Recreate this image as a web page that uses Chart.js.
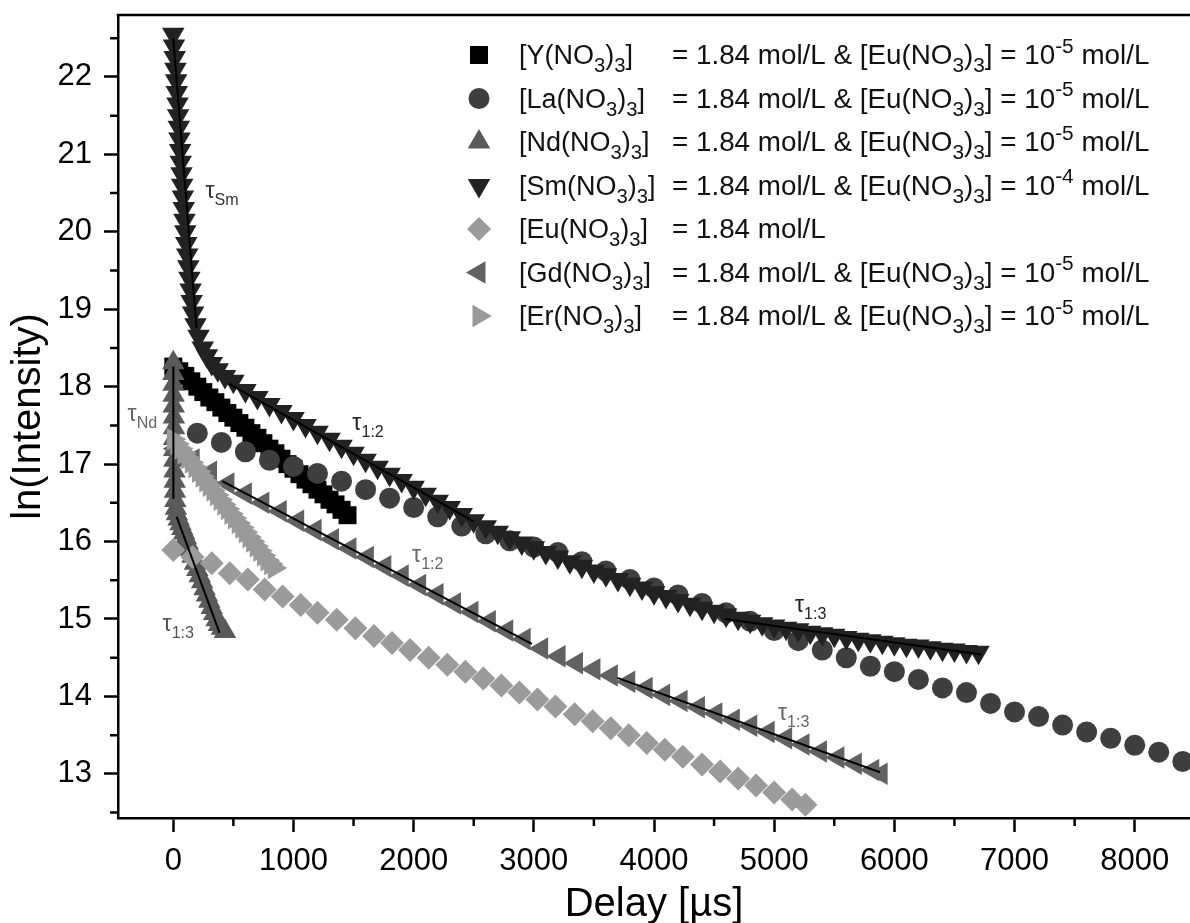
<!DOCTYPE html>
<html>
<head>
<meta charset="utf-8">
<script src="https://cdn.jsdelivr.net/npm/chart.js@4.4.1/dist/chart.umd.min.js"></script>
<style>
  html, body { margin: 0; padding: 0; background: #fff; overflow: hidden; }
  #wrap { width: 1190px; height: 923px; }
  canvas { display: block; }
</style>
</head>
<body>
<div id="wrap"><canvas id="chart" width="1190" height="923"></canvas></div>
<script>
const FONT = "'Liberation Sans', Arial, Helvetica, sans-serif";

// ticks
const xTicks = [0, 1000, 2000, 3000, 4000, 5000, 6000, 7000, 8000];
const xMinorTicks = [500, 1500, 2500, 3500, 4500, 5500, 6500, 7500];
const yTicks = [13, 14, 15, 16, 17, 18, 19, 20, 21, 22];
const yMinorTicks = [12.5, 13.5, 14.5, 15.5, 16.5, 17.5, 18.5, 19.5, 20.5, 21.5, 22.5];

// [Y(NO3)3] - squares
const yDelay = [0, 50, 100, 150, 200, 250, 300, 350, 400, 450, 500, 550, 600, 650, 700, 750, 800, 850, 900, 950, 1000, 1050, 1100, 1150, 1200, 1250, 1300, 1350, 1400, 1450];
const yLn = [18.26, 18.20, 18.14, 18.07, 18.00, 17.93, 17.86, 17.80, 17.73, 17.66, 17.60, 17.53, 17.47, 17.40, 17.34, 17.27, 17.20, 17.14, 17.07, 17.00, 16.94, 16.87, 16.80, 16.74, 16.67, 16.61, 16.54, 16.48, 16.41, 16.34];

// [La(NO3)3] - circles
const laDelay = [200, 400, 600, 800, 1000, 1200, 1400, 1600, 1800, 2000, 2200, 2400, 2600, 2800, 3000, 3200, 3400, 3600, 3800, 4000, 4200, 4400, 4600, 4800, 5000, 5200, 5400, 5600, 5800, 6000, 6200, 6400, 6600, 6800, 7000, 7200, 7400, 7600, 7800, 8000, 8200, 8400];
const laLn = [17.40, 17.28, 17.16, 17.05, 16.97, 16.88, 16.78, 16.67, 16.56, 16.44, 16.32, 16.20, 16.10, 16.01, 15.93, 15.86, 15.74, 15.62, 15.51, 15.40, 15.31, 15.20, 15.08, 14.97, 14.85, 14.72, 14.60, 14.50, 14.39, 14.32, 14.22, 14.11, 14.05, 13.91, 13.80, 13.74, 13.63, 13.54, 13.46, 13.37, 13.28, 13.16];

// [Nd(NO3)3] - up triangles
const ndDelay = [0, 1, 2, 3, 4, 5, 6, 7, 8, 9, 10, 12, 14, 17, 22, 30, 45, 60, 75, 90, 105, 120, 140, 160, 180, 200, 220, 240, 260, 280, 300, 320, 340, 360, 380, 405, 430];
const ndLn = [18.31, 18.17, 18.03, 17.89, 17.75, 17.61, 17.47, 17.33, 17.19, 17.05, 16.91, 16.78, 16.65, 16.53, 16.43, 16.36, 16.29, 16.23, 16.17, 16.11, 16.05, 15.98, 15.90, 15.81, 15.72, 15.64, 15.56, 15.48, 15.39, 15.31, 15.23, 15.15, 15.07, 14.99, 14.93, 14.88, 14.84];

// [Sm(NO3)3] - down triangles
const smDelay = [0, 6, 12, 18, 24, 29, 35, 40, 46, 51, 57, 62, 68, 74, 80, 87, 93, 100, 108, 116, 125, 134, 144, 153, 165, 185, 210, 245, 280, 320, 370, 430, 500,
  600, 700, 800, 900, 1000, 1100, 1200, 1300, 1400, 1500, 1600, 1700, 1800, 1900, 2000, 2100, 2200, 2300, 2400, 2500, 2600, 2700, 2800, 2900, 3000,
  3100, 3200, 3300, 3400, 3500, 3600, 3700, 3800, 3900, 4000, 4100, 4200, 4300, 4400, 4500, 4600, 4700, 4800, 4900, 5000,
  5100, 5200, 5300, 5400, 5500, 5600, 5700, 5800, 5900, 6000, 6100, 6200, 6300, 6400, 6500, 6600, 6700];
const smLn = [22.55, 22.40, 22.25, 22.10, 21.95, 21.80, 21.65, 21.50, 21.35, 21.20, 21.05, 20.90, 20.75, 20.60, 20.45, 20.30, 20.15, 20.00, 19.85, 19.70, 19.55, 19.40, 19.25, 19.10, 18.95, 18.80, 18.65, 18.50, 18.40, 18.30, 18.22, 18.13, 18.07,
  17.95, 17.86, 17.77, 17.68, 17.59, 17.50, 17.41, 17.32, 17.23, 17.14, 17.05, 16.96, 16.87, 16.79, 16.70, 16.61, 16.52, 16.44, 16.35, 16.27, 16.19, 16.12, 16.05, 15.98, 15.92,
  15.86, 15.80, 15.74, 15.68, 15.62, 15.57, 15.51, 15.45, 15.40, 15.34, 15.29, 15.24, 15.19, 15.14, 15.10, 15.05, 15.01, 14.97, 14.94, 14.91,
  14.88, 14.86, 14.83, 14.81, 14.79, 14.76, 14.74, 14.72, 14.70, 14.68, 14.66, 14.65, 14.63, 14.61, 14.60, 14.58, 14.57];

// [Eu(NO3)3] - diamonds
const euDelay = [0, 160, 320, 470, 620, 760, 910, 1060, 1200, 1360, 1515, 1670, 1820, 1970, 2125, 2280, 2430, 2580, 2730, 2880, 3030, 3180, 3340, 3490, 3640, 3790, 3940, 4090, 4240, 4400, 4550, 4700, 4850, 5000, 5150, 5260];
const euLn = [15.89, 15.80, 15.72, 15.59, 15.51, 15.38, 15.29, 15.18, 15.08, 14.99, 14.88, 14.78, 14.69, 14.60, 14.50, 14.41, 14.32, 14.23, 14.14, 14.05, 13.96, 13.87, 13.77, 13.68, 13.59, 13.50, 13.40, 13.31, 13.22, 13.12, 13.03, 12.94, 12.85, 12.76, 12.67, 12.60];

// [Gd(NO3)3] - left triangles
const gdDelay = [20, 165, 310, 455, 600, 745, 890, 1035, 1180, 1325, 1470, 1615, 1760, 1905, 2050, 2195, 2340, 2485, 2630, 2775, 2920, 3065, 3210, 3355, 3500, 3645, 3790, 3935, 4080, 4225, 4370, 4515, 4660, 4805, 4950, 5095, 5240, 5385, 5530, 5675, 5820, 5890];
const gdLn = [17.20, 17.06, 16.90, 16.75, 16.62, 16.50, 16.39, 16.27, 16.15, 16.03, 15.91, 15.80, 15.68, 15.56, 15.44, 15.32, 15.20, 15.09, 14.97, 14.85, 14.74, 14.62, 14.52, 14.43, 14.35, 14.27, 14.19, 14.11, 14.02, 13.94, 13.86, 13.78, 13.70, 13.62, 13.54, 13.46, 13.38, 13.29, 13.21, 13.13, 13.05, 13.00];

// [Er(NO3)3] - right triangles
const erDelay = [0, 30, 60, 90, 120, 150, 180, 210, 240, 270, 300, 330, 360, 390, 420, 450, 480, 510, 540, 570, 600, 630, 660, 690, 720, 750, 780, 810, 840];
const erLn = [17.32, 17.26, 17.20, 17.14, 17.08, 17.02, 16.96, 16.90, 16.84, 16.78, 16.72, 16.66, 16.60, 16.54, 16.48, 16.42, 16.36, 16.30, 16.24, 16.18, 16.12, 16.06, 16.00, 15.94, 15.88, 15.82, 15.76, 15.71, 15.66];

// linear fits (start, end)
const fitSmDelay = [0, 193];        const fitSmLn = [22.50, 18.76];
const fitSm12Delay = [462, 2499];   const fitSm12Ln = [18.04, 16.26];
const fitSm13Delay = [4588, 6725];  const fitSm13Ln = [15.00, 14.54];
const fitNdDelay = [0, 1];          const fitNdLn = [18.26, 16.55];
const fitNd13Delay = [28, 385];     const fitNd13Ln = [16.32, 14.82];
const fitGd12Delay = [407, 2984];   const fitGd12Ln = [16.78, 14.68];
const fitGd13Delay = [3695, 5881];  const fitGd13Ln = [14.24, 13.02];

// legend texts (_ = subscript, ^ = superscript)
const legendNames = ['[Y(NO_3)_3]', '[La(NO_3)_3]', '[Nd(NO_3)_3]', '[Sm(NO_3)_3]', '[Eu(NO_3)_3]', '[Gd(NO_3)_3]', '[Er(NO_3)_3]'];
const legendConc = [
  '= 1.84 mol/L & [Eu(NO_3)_3] = 10^{-5} mol/L',
  '= 1.84 mol/L & [Eu(NO_3)_3] = 10^{-5} mol/L',
  '= 1.84 mol/L & [Eu(NO_3)_3] = 10^{-5} mol/L',
  '= 1.84 mol/L & [Eu(NO_3)_3] = 10^{-4} mol/L',
  '= 1.84 mol/L',
  '= 1.84 mol/L & [Eu(NO_3)_3] = 10^{-5} mol/L',
  '= 1.84 mol/L & [Eu(NO_3)_3] = 10^{-5} mol/L'
];

// tau labels: text, delay, ln, colour
const tauTexts = ['\u03c4_{Sm}', '\u03c4_{1:2}', '\u03c4_{Nd}', '\u03c4_{1:3}', '\u03c4_{1:2}', '\u03c4_{1:3}', '\u03c4_{1:3}'];
const tauDelay = [268, 1490, -380, -89, 1987, 5173, 5032];
const tauLn = [20.435, 17.442, 17.558, 14.849, 15.739, 15.094, 13.70];
const tauColors = ['#333333', '#222222', '#666666', '#555555', '#666666', '#222222', '#666666'];

function pts(xs, ys) {
  return xs.map((x, i) => ({ x: x, y: ys[i] }));
}

const markerSeries = [
  { data: pts(yDelay, yLn), style: 'rect', rot: 0, r: 12.7, color: '#000000' },
  { data: pts(laDelay, laLn), style: 'circle', rot: 0, r: 10.5, color: '#3f3f3f' },
  { data: pts(ndDelay, ndLn), style: 'triangle', rot: 0, r: 13, color: '#5a5a5a' },
  { data: pts(smDelay, smLn), style: 'triangle', rot: 180, r: 13, color: '#222222' },
  { data: pts(euDelay, euLn), style: 'rectRot', rot: 0, r: 12, color: '#9b9b9b' },
  { data: pts(gdDelay, gdLn), style: 'triangle', rot: -90, r: 13, color: '#626262' },
  { data: pts(erDelay, erLn), style: 'triangle', rot: 90, r: 13, color: '#9a9a9a' }
];

const fitLines = [
  pts(fitSmDelay, fitSmLn), pts(fitSm12Delay, fitSm12Ln), pts(fitSm13Delay, fitSm13Ln),
  pts(fitNdDelay, fitNdLn), pts(fitNd13Delay, fitNd13Ln),
  pts(fitGd12Delay, fitGd12Ln), pts(fitGd13Delay, fitGd13Ln)
];

const datasets = markerSeries.map((s, i) => ({
  label: legendNames[i],
  data: s.data,
  pointStyle: s.style,
  pointRotation: s.rot,
  pointRadius: s.r,
  backgroundColor: s.color,
  borderColor: s.color,
  borderWidth: 0,
  showLine: false,
  order: markerSeries.length - i
}));
fitLines.forEach((d) => {
  datasets.push({
    label: 'fit',
    data: d,
    showLine: true,
    pointRadius: 0,
    borderColor: '#000000',
    borderWidth: 2,
    order: -1
  });
});

// text with sub/superscripts
function richParts(str) {
  const parts = [];
  let i = 0, buf = '';
  while (i < str.length) {
    const c = str[i];
    if (c === '_' || c === '^') {
      if (buf) { parts.push({ t: buf, m: 0 }); buf = ''; }
      const m = c === '_' ? 1 : 2;
      i++;
      let t;
      if (str[i] === '{') {
        const j = str.indexOf('}', i);
        t = str.slice(i + 1, j);
        i = j + 1;
      } else {
        t = str[i];
        i++;
      }
      parts.push({ t: t, m: m });
    } else {
      buf += c;
      i++;
    }
  }
  if (buf) parts.push({ t: buf, m: 0 });
  return parts;
}

function drawRich(ctx, str, x, y, size, color, subScale) {
  const k = subScale || 0.7;
  ctx.save();
  ctx.fillStyle = color;
  ctx.textAlign = 'left';
  ctx.textBaseline = 'alphabetic';
  let cx = x;
  richParts(str).forEach((p) => {
    const s = p.m ? size * k : size;
    ctx.font = s + 'px ' + FONT;
    const dy = p.m === 1 ? size * 0.3 : (p.m === 2 ? -size * 0.4 : 0);
    ctx.fillText(p.t, cx, y + dy);
    cx += ctx.measureText(p.t).width;
  });
  ctx.restore();
}

function drawMarker(ctx, s, x, y) {
  ctx.save();
  ctx.fillStyle = s.color;
  ctx.beginPath();
  if (s.style === 'circle') {
    ctx.arc(x, y, s.r, 0, Math.PI * 2);
  } else if (s.style === 'rect') {
    const h = s.r * Math.SQRT1_2;
    ctx.rect(x - h, y - h, 2 * h, 2 * h);
  } else if (s.style === 'rectRot') {
    ctx.moveTo(x - s.r, y);
    ctx.lineTo(x, y - s.r);
    ctx.lineTo(x + s.r, y);
    ctx.lineTo(x, y + s.r);
  } else {
    let a = s.rot * Math.PI / 180;
    for (let k = 0; k < 3; k++) {
      const px = x + Math.sin(a) * s.r;
      const py = y - Math.cos(a) * s.r;
      if (k === 0) ctx.moveTo(px, py); else ctx.lineTo(px, py);
      a += 2 * Math.PI / 3;
    }
  }
  ctx.closePath();
  ctx.fill();
  ctx.restore();
}

const decorPlugin = {
  id: 'decor',
  afterDraw(chart) {
    const ctx = chart.ctx;
    const area = chart.chartArea;
    const xs = chart.scales.x;
    const ys = chart.scales.y;

    // top frame line + minor ticks
    ctx.save();
    ctx.strokeStyle = '#000';
    ctx.lineWidth = 2.5;
    ctx.beginPath();
    ctx.moveTo(area.left - 1.25, area.top);
    ctx.lineTo(area.right, area.top);
    xMinorTicks.forEach((v) => {
      const px = xs.getPixelForValue(v);
      ctx.moveTo(px, area.bottom);
      ctx.lineTo(px, area.bottom + 8);
    });
    yMinorTicks.forEach((v) => {
      const py = ys.getPixelForValue(v);
      ctx.moveTo(area.left - 8, py);
      ctx.lineTo(area.left, py);
    });
    ctx.stroke();
    ctx.restore();

    // tau labels
    tauTexts.forEach((t, i) => {
      drawRich(ctx, t, xs.getPixelForValue(tauDelay[i]), ys.getPixelForValue(tauLn[i]), 23, tauColors[i], 0.7);
    });

    // legend
    const symX = area.left + 361;
    const nameX = area.left + 401;
    const concX = area.left + 554;
    markerSeries.forEach((s, i) => {
      const rowY = area.top + 40 + i * 43.5;
      drawMarker(ctx, s, symX, rowY);
      drawRich(ctx, legendNames[i], nameX, rowY + 9, 27, '#111', 0.75);
      drawRich(ctx, legendConc[i], concX, rowY + 9, 27.8, '#111', 0.75);
    });
  }
};

const tickFont = { family: FONT, size: 31 };
const titleFont = { family: FONT, size: 40 };

new Chart(document.getElementById('chart'), {
  type: 'scatter',
  data: { datasets: datasets },
  plugins: [decorPlugin],
  options: {
    responsive: false,
    devicePixelRatio: 1,
    animation: false,
    events: [],
    layout: { autoPadding: false, padding: { top: 15, right: 0, left: 0, bottom: 0 } },
    plugins: {
      legend: { display: false },
      tooltip: { enabled: false }
    },
    scales: {
      x: {
        type: 'linear',
        position: 'bottom',
        min: -460,
        max: 8460,
        afterBuildTicks: (axis) => { axis.ticks = xTicks.map((v) => ({ value: v })); },
        afterFit: (axis) => {
          axis.height = 105;
          axis.paddingLeft = 0;
          axis.paddingRight = 0;
        },
        grid: { display: true, drawOnChartArea: false, drawTicks: true, tickLength: 14, tickWidth: 2.5, tickColor: '#000' },
        border: { display: true, color: '#000', width: 2.5 },
        ticks: { color: '#000', font: tickFont, padding: 11, maxRotation: 0, autoSkip: false, callback: (v) => String(v) },
        title: { display: true, text: 'Delay [µs]', color: '#000', font: titleFont, padding: { top: 0, bottom: -6 } }
      },
      y: {
        type: 'linear',
        position: 'left',
        min: 12.43,
        max: 22.8,
        afterBuildTicks: (axis) => { axis.ticks = yTicks.map((v) => ({ value: v })); },
        afterFit: (axis) => {
          axis.width = 118;
          axis.paddingTop = 0;
          axis.paddingBottom = 0;
        },
        grid: { display: true, drawOnChartArea: false, drawTicks: true, tickLength: 14, tickWidth: 2.5, tickColor: '#000' },
        border: { display: true, color: '#000', width: 2.5 },
        ticks: { color: '#000', font: tickFont, padding: 12, autoSkip: false, callback: (v) => String(v) },
        title: { display: true, text: 'ln(Intensity)', color: '#000', font: titleFont, padding: { top: 5, bottom: 0 } }
      }
    }
  }
});
</script>
</body>
</html>
